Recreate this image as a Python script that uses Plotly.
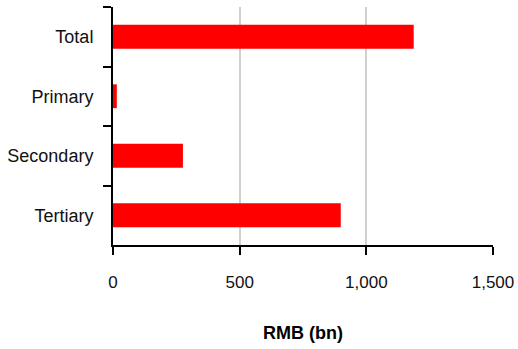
import plotly.graph_objects as go

# GDP by sector, RMB billions
categories = ["Total", "Primary", "Secondary", "Tertiary"]
values = [1187, 15, 276, 899]
x_ticks = [0, 500, 1000, 1500]

FONT = "Liberation Sans, Arial, sans-serif"

fig = go.Figure(
    go.Bar(
        y=categories,
        x=values,
        orientation="h",
        width=0.4,
        marker=dict(color="#ff0000", line=dict(width=0)),
    )
)

fig.update_layout(
    width=518,
    height=349,
    margin=dict(l=113, r=25, t=7, b=104, autoexpand=False),
    paper_bgcolor="white",
    plot_bgcolor="white",
    showlegend=False,
    font=dict(family=FONT, size=17, color="#111111"),
)

fig.update_xaxes(
    range=[0, 1500],
    tickvals=x_ticks,
    tickformat=",",
    ticks="outside",
    ticklen=8,
    tickwidth=2,
    tickcolor="black",
    ticklabelstandoff=13,
    tickfont=dict(size=17),
    showline=True,
    linecolor="black",
    linewidth=2,
    showgrid=True,
    gridcolor="#d0d0d0",
    gridwidth=2,
    zeroline=False,
    title=dict(text="<b>RMB (bn)</b>", font=dict(size=18, family=FONT, color="black"), standoff=35),
    automargin=False,
)

fig.update_yaxes(
    categoryorder="array",
    categoryarray=categories,
    autorange="reversed",
    tickson="boundaries",
    ticks="outside",
    ticklen=8,
    tickwidth=2,
    tickcolor="black",
    ticklabelstandoff=14,
    tickfont=dict(size=18),
    showline=True,
    linecolor="black",
    linewidth=2,
    showgrid=False,
    zeroline=False,
    automargin=False,
)

fig.write_html("out.html")
